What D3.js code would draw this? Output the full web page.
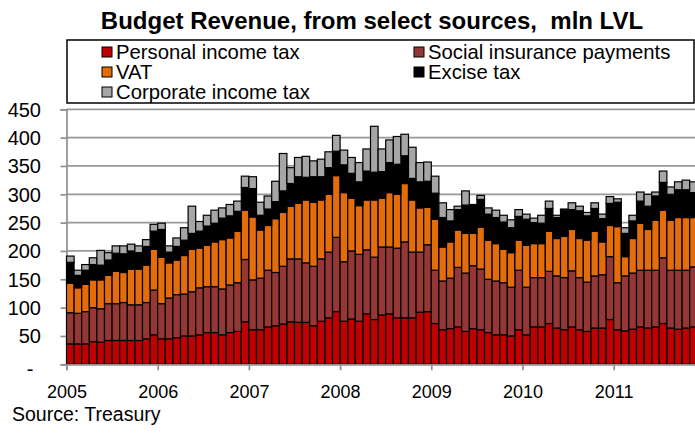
<!DOCTYPE html>
<html>
<head>
<meta charset="utf-8">
<script src="https://cdn.jsdelivr.net/npm/d3@7/dist/d3.min.js"></script>
<style>
  html, body { margin: 0; padding: 0; background: #fff; }
  svg { display: block; }
  text { font-family: "Liberation Sans", Arial, sans-serif; }
</style>
</head>
<body>
<svg id="chart" width="695" height="433"></svg>
<script>
// ---- DATA (mln LVL, monthly Jan 2005 – Nov 2011) ----
const startYear = 2005;
const yearLabels = ["2005", "2006", "2007", "2008", "2009", "2010", "2011"];
const yTicks = [0, 50, 100, 150, 200, 250, 300, 350, 400, 450];
const seriesNames = ["Personal income tax", "Social insurance payments", "VAT", "Excise tax", "Corporate income tax"];
const seriesColors = ["#C00000", "#953735", "#E46C0A", "#000000", "#A6A6A6"];

const personalIncomeTax = [
  36, 36, 36, 40, 39, 42, 42, 42, 42, 42, 45, 52,
  45, 45, 47, 50, 50, 52, 56, 56, 52, 56, 58, 75,
  61, 61, 66, 68, 71, 75, 74, 74, 68, 76, 82, 93,
  76, 80, 76, 89, 79, 87, 89, 82, 82, 82, 92, 93,
  72, 61, 63, 66, 58, 63, 61, 56, 52, 52, 50, 61,
  52, 66, 66, 72, 64, 61, 66, 61, 58, 64, 64, 79,
  61, 59, 62, 66, 64, 66, 72, 64, 62, 64, 66
];
const socialInsurance = [
  55, 54, 57, 60, 59, 65, 65, 67, 63, 63, 64, 79,
  62, 72, 76, 74, 78, 83, 81, 81, 81, 84, 86, 110,
  88, 91, 100, 94, 102, 111, 112, 105, 105, 110, 116, 131,
  105, 120, 118, 113, 110, 120, 118, 123, 134, 116, 106, 118,
  94, 86, 89, 105, 103, 111, 107, 94, 95, 92, 86, 105,
  84, 87, 87, 92, 92, 92, 99, 92, 87, 92, 94, 111,
  83, 97, 99, 100, 102, 100, 116, 102, 104, 102, 106
];
const vat = [
  52, 45, 48, 49, 51, 50, 57, 53, 63, 63, 66, 72,
  82, 62, 61, 68, 75, 70, 73, 79, 87, 83, 91, 87,
  111, 85, 79, 95, 95, 93, 98, 111, 113, 104, 102, 109,
  122, 93, 86, 88, 101, 86, 96, 95, 103, 92, 78, 66,
  90, 60, 64, 66, 70, 57, 74, 69, 66, 59, 61, 53,
  74, 60, 60, 71, 66, 73, 73, 69, 74, 79, 58, 55,
  99, 34, 61, 83, 72, 88, 84, 88, 93, 93, 87
];
const exciseTax = [
  37, 22, 25, 27, 26, 27, 32, 33, 32, 29, 33, 32,
  49, 19, 24, 27, 28, 30, 34, 33, 38, 39, 35, 40,
  50, 26, 29, 30, 38, 40, 47, 40, 45, 41, 47, 43,
  49, 44, 42, 51, 49, 47, 53, 53, 49, 38, 46, 46,
  46, 52, 37, 36, 50, 49, 49, 46, 46, 48, 44, 42,
  46, 37, 36, 40, 37, 46, 35, 49, 43, 40, 41, 39,
  43, 41, 31, 39, 41, 43, 49, 46, 49, 49, 44
];
const corporateIncomeTax = [
  11, 9, 10, 12, 26, 13, 13, 14, 12, 12, 12, 12,
  11, 11, 15, 22, 48, 17, 19, 23, 18, 20, 18, 20,
  21, 23, 23, 36, 66, 28, 34, 37, 28, 31, 28, 28,
  26, 28, 34, 39, 81, 40, 40, 49, 38, 55, 34, 34,
  30, 26, 20, 6, 25, 2, 7, 11, 13, 12, 14, 12,
  9, 8, 14, 13, 4, 2, 12, 8, 6, 10, 8, 12,
  6, 10, 10, 16, 21, 7, 20, 13, 14, 17, 19
];

const seriesValues = [personalIncomeTax, socialInsurance, vat, exciseTax, corporateIncomeTax];

// ---- LAYOUT ----
const W = 695, H = 433;
const plotLeft = 66.5, slot = 7.6, plotTop = 109.3, plotBottom = 364.3;
const nMonths = personalIncomeTax.length;

const svg = d3.select("#chart");

const rows = d3.range(nMonths).map(i => {
  const r = { i };
  seriesNames.forEach((n, s) => r[n] = seriesValues[s][i]);
  return r;
});
const stacked = d3.stack().keys(seriesNames)(rows);

const x = d3.scaleBand()
  .domain(d3.range(nMonths))
  .range([plotLeft, plotLeft + nMonths * slot])
  .padding(0);
const xYear = d3.scaleLinear()
  .domain([startYear, startYear + nMonths / 12])
  .range([plotLeft, plotLeft + nMonths * slot]);
const y = d3.scaleLinear().domain([0, 450]).range([plotBottom, plotTop]);

// gridlines
svg.append("g")
  .selectAll("line")
  .data(yTicks.filter(d => d > 0))
  .join("line")
  .attr("x1", plotLeft).attr("x2", W)
  .attr("y1", d => y(d)).attr("y2", d => y(d))
  .attr("stroke", "#999999").attr("stroke-width", 1.7);

// y axis
const yAxis = d3.axisLeft(y).tickValues(yTicks).tickSize(6)
  .tickFormat(d => d === 0 ? "-" : d3.format("d")(d));
const gy = svg.append("g").attr("transform", `translate(${plotLeft},0)`).call(yAxis);
gy.select(".domain").attr("stroke", "#909090").attr("stroke-width", 1.7);
gy.selectAll(".tick line").attr("stroke", "#909090").attr("stroke-width", 1.7);
gy.selectAll(".tick text")
  .attr("x", -25.5)
  .attr("font-size", 20)
  .attr("font-family", "Liberation Sans, Arial, sans-serif")
  .attr("fill", "#000")
  .attr("dy", "0.35em");
gy.selectAll(".tick text").filter(d => d === 0).attr("x", -33).attr("dy", "0.55em");

// bars
const layer = svg.append("g").selectAll("g")
  .data(stacked)
  .join("g")
  .attr("fill", (d, s) => seriesColors[s]);
layer.selectAll("rect")
  .data(d => d)
  .join("rect")
  .attr("x", d => x(d.data.i))
  .attr("width", x.bandwidth())
  .attr("y", d => y(d[1]))
  .attr("height", d => y(d[0]) - y(d[1]))
  .attr("stroke", "#000")
  .attr("stroke-width", 1.2);

// x axis
const xAxis = d3.axisBottom(xYear)
  .tickValues(yearLabels.map(Number))
  .tickFormat(d => String(d))
  .tickSize(6);
const gx = svg.append("g").attr("transform", `translate(0,${plotBottom})`).call(xAxis);
gx.select(".domain").attr("stroke", "#909090").attr("stroke-width", 1.7);
gx.selectAll(".tick line").attr("stroke", "#909090").attr("stroke-width", 1.7);
gx.selectAll(".tick text")
  .attr("y", 20.5)
  .attr("font-size", 18)
  .attr("font-family", "Liberation Sans, Arial, sans-serif")
  .attr("fill", "#000");

// title
svg.append("text")
  .attr("x", 372).attr("y", 29)
  .attr("text-anchor", "middle")
  .attr("font-size", 24)
  .attr("font-weight", "bold")
  .style("white-space", "pre")
  .text("Budget Revenue, from select sources,  mln LVL");

// legend
svg.append("rect")
  .attr("x", 67).attr("y", 40).attr("width", 627).attr("height", 63)
  .attr("fill", "#fff").attr("stroke", "#000").attr("stroke-width", 1.5);
const legendPos = [
  [102, 52], [414, 52], [102, 72], [414, 72], [102, 92]
];
const lg = svg.append("g").selectAll("g")
  .data(seriesNames)
  .join("g")
  .attr("transform", (d, s) => `translate(${legendPos[s][0]},${legendPos[s][1]})`);
lg.append("rect")
  .attr("x", 0).attr("y", -5).attr("width", 10).attr("height", 10)
  .attr("fill", (d, s) => seriesColors[s])
  .attr("stroke", "#000").attr("stroke-width", 1);
lg.append("text")
  .attr("x", 14).attr("y", 0).attr("dy", "0.36em")
  .attr("font-size", 20.3)
  .text(d => d);

// source
svg.append("text")
  .attr("x", 12).attr("y", 421)
  .attr("font-size", 19.5)
  .text("Source: Treasury");
</script>
</body>
</html>
